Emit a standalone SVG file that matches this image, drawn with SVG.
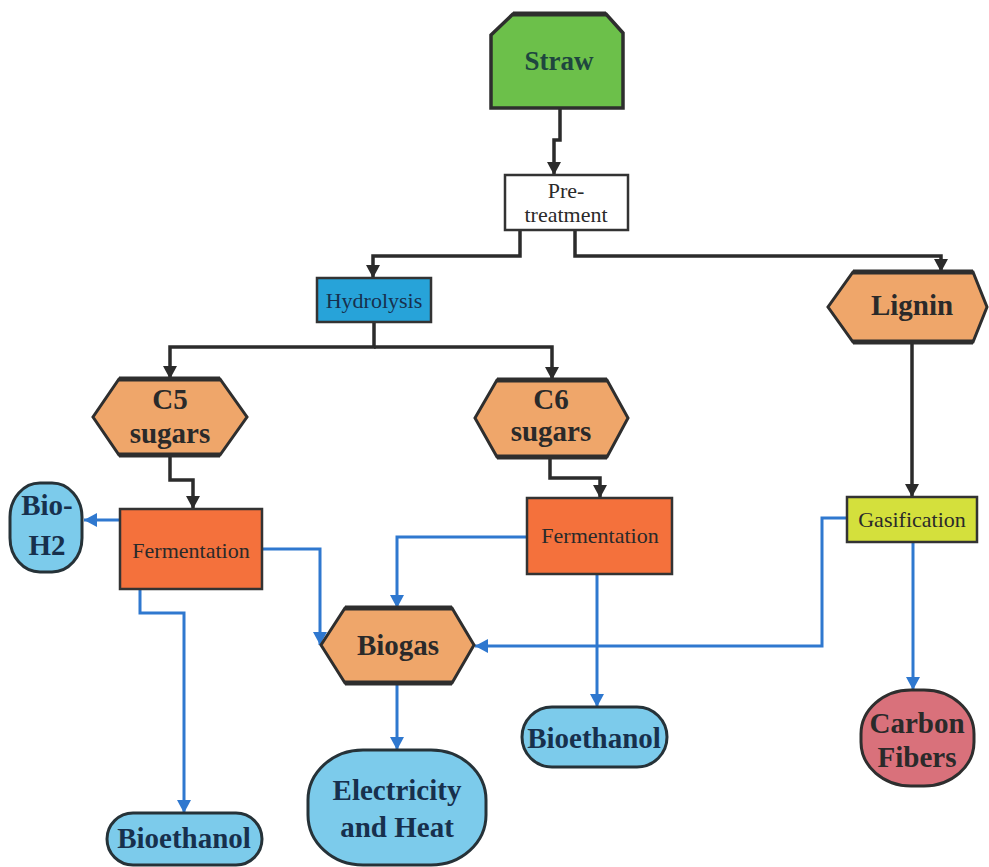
<svg xmlns="http://www.w3.org/2000/svg" width="989" height="867" viewBox="0 0 989 867">
  <defs>
    <marker id="arrowDark" markerUnits="userSpaceOnUse" markerWidth="16" markerHeight="16" refX="13" refY="7" orient="auto">
      <path d="M0,0 L13,7 L0,14 z" fill="#2b2b2b"/>
    </marker>
    <marker id="arrowBlue" markerUnits="userSpaceOnUse" markerWidth="16" markerHeight="16" refX="13" refY="7" orient="auto">
      <path d="M0,0 L13,7 L0,14 z" fill="#2f78cf"/>
    </marker>
    <style>
      text { font-family: "Liberation Serif", "DejaVu Serif", serif; }
      .dark { fill: none; stroke: #2b2b2b; stroke-width: 3.5; marker-end: url(#arrowDark); }
      .blue { fill: none; stroke: #2f78cf; stroke-width: 3; marker-end: url(#arrowBlue); }
      .hex { fill: #efa66a; stroke: #2e2e2e; stroke-width: 3; stroke-linejoin: miter; }
      .bar { stroke: #2e2e2e; stroke-width: 5; }
      .pill { fill: #7ccbeb; stroke: #263238; stroke-width: 3; }
      .box { stroke: #333; stroke-width: 2.5; }
      .big { font-weight: bold; font-size: 29px; fill: #2a2a2a; text-anchor: middle; }
      .small { font-size: 22px; fill: #2a2a2a; text-anchor: middle; }
      .navy { fill: #17304d; }
    </style>
  </defs>
  <rect width="989" height="867" fill="#ffffff"/>

  <!-- connectors -->
  <g id="connectors">
    <path class="dark" d="M560,108 V140 H554 V175"/>
    <path class="dark" d="M520,230 V256 H373 V278"/>
    <path class="dark" d="M575,230 V256 H941 V272"/>
    <path class="dark" d="M374,322 V347 H170 V379"/>
    <path class="dark" d="M374,347 H552 V380"/>
    <path class="dark" d="M170,455 V480 H193 V509"/>
    <path class="dark" d="M550,457 V478 H600 V498"/>
    <path class="dark" d="M912,342 V497"/>

    <path class="blue" d="M120,520 H84"/>
    <path class="blue" d="M262,549 H320 V645"/>
    <path class="blue" d="M140,589 V613 H184 V813"/>
    <path class="blue" d="M527,537 H397 V608"/>
    <path class="blue" d="M597,574 V707"/>
    <path class="blue" d="M847,518 H822 V646 H475"/>
    <path class="blue" d="M913,542 V690"/>
    <path class="blue" d="M397,683 V750"/>
  </g>

  <!-- nodes -->
  <g id="straw">
    <polygon points="513,14 606,14 623,33 623,108 491,108 491,35" fill="#6cc04a" stroke="#2e2e2e" stroke-width="3.5"/>
    <line class="bar" x1="513" y1="14" x2="606" y2="14"/>
    <text x="559" y="70" class="big" style="font-size:27px; fill:#1e463f">Straw</text>
  </g>

  <g id="pretreatment">
    <rect x="505" y="175" width="123" height="55" fill="#ffffff" class="box"/>
    <text x="566" y="198" class="small">Pre-</text>
    <text x="566" y="222" class="small">treatment</text>
  </g>

  <g id="hydrolysis">
    <rect x="317" y="278" width="114" height="44" fill="#27a3d9" class="box"/>
    <text x="374" y="308" class="small navy">Hydrolysis</text>
  </g>

  <g id="lignin">
    <polygon class="hex" points="853,272 973,272 987,307 973,342 853,342 828,307"/>
    <path class="bar" d="M853,272 H973 M853,342 H973"/>
    <text x="912" y="315" class="big">Lignin</text>
  </g>

  <g id="c5-sugars">
    <polygon class="hex" points="119,379 220,379 247,417 220,455 119,455 93,417"/>
    <path class="bar" d="M119,379 H220 M119,455 H220"/>
    <text x="170" y="409" class="big">C5</text>
    <text x="170" y="443" class="big">sugars</text>
  </g>

  <g id="c6-sugars">
    <polygon class="hex" points="497,380 607,380 628,418 607,457 497,457 475,418"/>
    <path class="bar" d="M497,380 H607 M497,457 H607"/>
    <text x="551" y="409" class="big">C6</text>
    <text x="551" y="441" class="big">sugars</text>
  </g>

  <g id="fermentation-c5">
    <rect x="120" y="509" width="142" height="80" fill="#f4713c" class="box"/>
    <text x="191" y="558" class="small">Fermentation</text>
  </g>

  <g id="fermentation-c6">
    <rect x="527" y="498" width="145" height="76" fill="#f4713c" class="box"/>
    <text x="600" y="543" class="small">Fermentation</text>
  </g>

  <g id="gasification">
    <rect x="847" y="497" width="130" height="45" fill="#d4e03c" class="box"/>
    <text x="912" y="527" class="small">Gasification</text>
  </g>

  <g id="bio-h2">
    <rect x="10" y="483" width="72" height="89" rx="30" ry="34" class="pill"/>
    <text x="47" y="515" class="big navy">Bio-</text>
    <text x="47" y="555" class="big navy">H2</text>
  </g>

  <g id="biogas">
    <polygon class="hex" points="345,608 452,608 474,645 452,683 345,683 321,645"/>
    <path class="bar" d="M345,608 H452 M345,683 H452"/>
    <text x="398" y="655" class="big">Biogas</text>
  </g>

  <g id="bioethanol-c5">
    <rect x="107" y="813" width="155" height="52" rx="26" ry="26" class="pill"/>
    <text x="184" y="848" class="big navy">Bioethanol</text>
  </g>

  <g id="bioethanol-c6">
    <rect x="522" y="707" width="145" height="60" rx="30" ry="30" class="pill"/>
    <text x="594" y="748" class="big navy">Bioethanol</text>
  </g>

  <g id="electricity-heat">
    <rect x="308" y="750" width="178" height="115" rx="55" ry="50" class="pill"/>
    <text x="397" y="800" class="big navy">Electricity</text>
    <text x="397" y="837" class="big navy">and Heat</text>
  </g>

  <g id="carbon-fibers">
    <rect x="861" y="690" width="113" height="96" rx="50" ry="44" fill="#d9717b" stroke="#2e2e2e" stroke-width="3"/>
    <text x="917" y="733" class="big">Carbon</text>
    <text x="917" y="767" class="big">Fibers</text>
  </g>
</svg>
